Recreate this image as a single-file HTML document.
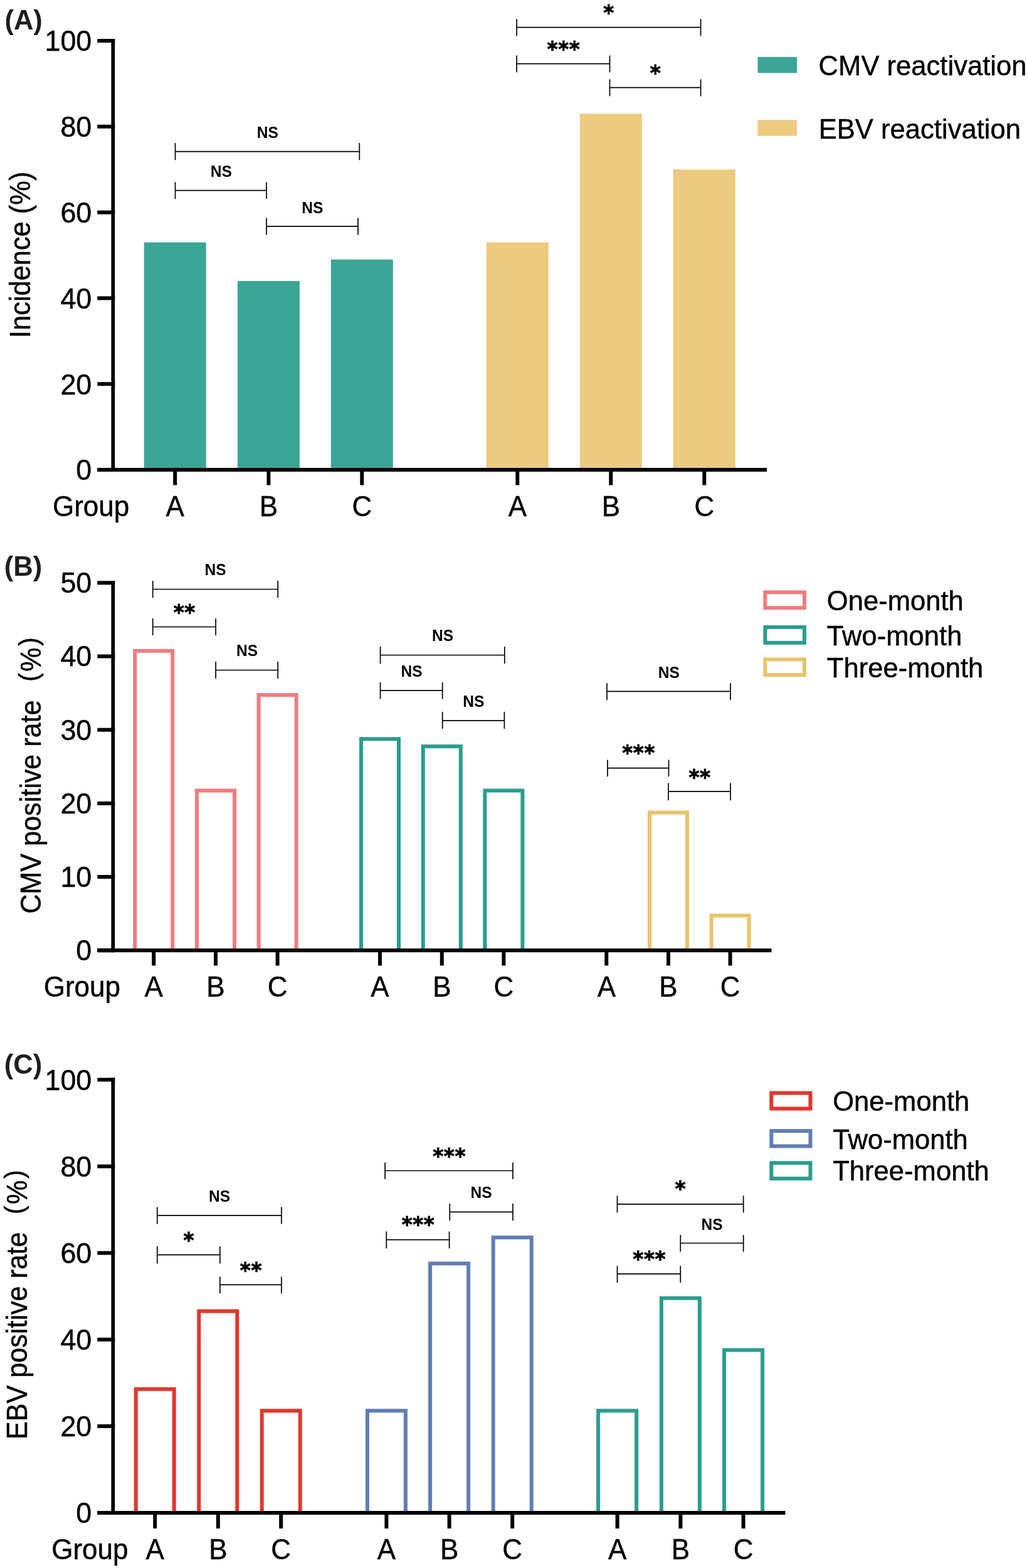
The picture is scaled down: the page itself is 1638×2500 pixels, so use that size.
<!DOCTYPE html>
<html><head><meta charset="utf-8"><title>Figure</title><style>html,body{margin:0;padding:0;background:#fff;overflow:hidden;width:1638px;height:2500px;}svg{display:block;}</style></head><body>
<svg width="1638" height="2500" viewBox="0 0 1638 2500" font-family='"Liberation Sans", Arial, sans-serif'>
<rect width="1638" height="2500" fill="#fff"/>
<rect x="229.7" y="386.48" width="99" height="359.72" fill="#3ba597"/>
<rect x="378.9" y="448.04" width="99" height="298.16" fill="#3ba597"/>
<rect x="527.8" y="413.84" width="99" height="332.36" fill="#3ba597"/>
<rect x="775.8" y="386.48" width="99" height="359.72" fill="#ecca7e"/>
<rect x="924.8" y="181.28" width="99" height="564.92" fill="#ecca7e"/>
<rect x="1073.8" y="270.2" width="99" height="476" fill="#ecca7e"/>
<rect x="177.4" y="62" width="5.8" height="690" fill="#000"/>
<rect x="155.3" y="62" width="27.9" height="6" fill="#000"/>
<text transform="translate(146.2,81.4) scale(1,1.04)" font-size="44.8" text-anchor="end" stroke="#000" stroke-width="0.45" fill="#000">100</text>
<rect x="155.3" y="198.8" width="27.9" height="6" fill="#000"/>
<text transform="translate(146.2,218.2) scale(1,1.04)" font-size="44.8" text-anchor="end" stroke="#000" stroke-width="0.45" fill="#000">80</text>
<rect x="155.3" y="335.6" width="27.9" height="6" fill="#000"/>
<text transform="translate(146.2,355) scale(1,1.04)" font-size="44.8" text-anchor="end" stroke="#000" stroke-width="0.45" fill="#000">60</text>
<rect x="155.3" y="472.4" width="27.9" height="6" fill="#000"/>
<text transform="translate(146.2,491.8) scale(1,1.04)" font-size="44.8" text-anchor="end" stroke="#000" stroke-width="0.45" fill="#000">40</text>
<rect x="155.3" y="609.2" width="27.9" height="6" fill="#000"/>
<text transform="translate(146.2,628.6) scale(1,1.04)" font-size="44.8" text-anchor="end" stroke="#000" stroke-width="0.45" fill="#000">20</text>
<rect x="155.3" y="746" width="27.9" height="6" fill="#000"/>
<text transform="translate(146.2,765.4) scale(1,1.04)" font-size="44.8" text-anchor="end" stroke="#000" stroke-width="0.45" fill="#000">0</text>
<rect x="155.3" y="746" width="1067.8" height="6" fill="#000"/>
<rect x="276.2" y="749" width="6" height="24.5" fill="#000"/>
<text transform="translate(279.2,823.2) scale(1,1.035)" font-size="44" text-anchor="middle" stroke="#000" stroke-width="0.45" fill="#000">A</text>
<rect x="425.4" y="749" width="6" height="24.5" fill="#000"/>
<text transform="translate(428.4,823.2) scale(1,1.035)" font-size="44" text-anchor="middle" stroke="#000" stroke-width="0.45" fill="#000">B</text>
<rect x="574.3" y="749" width="6" height="24.5" fill="#000"/>
<text transform="translate(577.3,823.2) scale(1,1.035)" font-size="44" text-anchor="middle" stroke="#000" stroke-width="0.45" fill="#000">C</text>
<rect x="822.3" y="749" width="6" height="24.5" fill="#000"/>
<text transform="translate(825.3,823.2) scale(1,1.035)" font-size="44" text-anchor="middle" stroke="#000" stroke-width="0.45" fill="#000">A</text>
<rect x="971.3" y="749" width="6" height="24.5" fill="#000"/>
<text transform="translate(974.3,823.2) scale(1,1.035)" font-size="44" text-anchor="middle" stroke="#000" stroke-width="0.45" fill="#000">B</text>
<rect x="1120.3" y="749" width="6" height="24.5" fill="#000"/>
<text transform="translate(1123.3,823.2) scale(1,1.035)" font-size="44" text-anchor="middle" stroke="#000" stroke-width="0.45" fill="#000">C</text>
<text transform="translate(83.99,823.2) scale(1,1.035)" font-size="44" text-anchor="start" stroke="#000" stroke-width="0.45" fill="#000">Group</text>
<path d="M279.5,228.7V254.4M573.3,228.7V254.4M279.5,241.6H573.3" fill="none" stroke="#000" stroke-width="1.7" stroke-linecap="round"/>
<text transform="translate(426.85,220.05) scale(1,1.035)" font-size="24.6" text-anchor="middle" font-weight="bold" fill="#000">NS</text>
<path d="M279.5,290.8V316.5M425,290.8V316.5M279.5,303.7H425" fill="none" stroke="#000" stroke-width="1.7" stroke-linecap="round"/>
<text transform="translate(352.7,282.35) scale(1,1.035)" font-size="24.6" text-anchor="middle" font-weight="bold" fill="#000">NS</text>
<path d="M425,348V373.7M571,348V373.7M425,360.9H571" fill="none" stroke="#000" stroke-width="1.7" stroke-linecap="round"/>
<text transform="translate(498.25,339.55) scale(1,1.035)" font-size="24.6" text-anchor="middle" font-weight="bold" fill="#000">NS</text>
<path d="M824.1,31V56.4M1117.6,31V56.4M824.1,43.7H1117.6" fill="none" stroke="#000" stroke-width="1.7" stroke-linecap="round"/>
<text transform="translate(970.95,31.69) scale(1,1.04)" font-size="32.5" text-anchor="middle" font-weight="bold" font-family="'DejaVu Sans', sans-serif" fill="#000" stroke="#000" stroke-width="0.8" stroke-linejoin="miter" letter-spacing="0.6">*</text>
<path d="M824.1,89.2V114.6M972.5,89.2V114.6M824.1,101.6H972.5" fill="none" stroke="#000" stroke-width="1.7" stroke-linecap="round"/>
<text transform="translate(899,89.89) scale(1,1.04)" font-size="32.5" text-anchor="middle" font-weight="bold" font-family="'DejaVu Sans', sans-serif" fill="#000" stroke="#000" stroke-width="0.8" stroke-linejoin="miter" letter-spacing="0.6">***</text>
<path d="M972.5,127V152.7M1117.6,127V152.7M972.5,139.7H1117.6" fill="none" stroke="#000" stroke-width="1.7" stroke-linecap="round"/>
<text transform="translate(1045.65,127.69) scale(1,1.04)" font-size="32.5" text-anchor="middle" font-weight="bold" font-family="'DejaVu Sans', sans-serif" fill="#000" stroke="#000" stroke-width="0.8" stroke-linejoin="miter" letter-spacing="0.6">*</text>
<rect x="1208.5" y="90.8" width="62.6" height="25.6" fill="#3ba597"/>
<rect x="1208.5" y="191.3" width="62.6" height="25.3" fill="#ecca7e"/>
<text transform="translate(1305.59,120.2) scale(1,1.035)" font-size="43.6" text-anchor="start" stroke="#000" stroke-width="0.45" fill="#000">CMV reactivation</text>
<text transform="translate(1305.72,220.7) scale(1,1.035)" font-size="43.6" text-anchor="start" stroke="#000" stroke-width="0.45" fill="#000">EBV reactivation</text>
<text transform="translate(7.43,47.1) scale(1,1.035)" font-size="43.5" text-anchor="start" font-weight="bold" fill="#1e1e1e">(A)</text>
<text transform="translate(47.9,406.3) rotate(-90) scale(1,1.05)" font-size="43.4" text-anchor="middle" fill="#000" stroke="#000" stroke-width="0.45">Incidence (%)</text>
<path d="M215.2,1513.25V1037.73H275.2V1513.25" fill="none" stroke="#f07c7f" stroke-width="6" stroke-linejoin="miter"/>
<path d="M314,1513.25V1260.41H374V1513.25" fill="none" stroke="#f07c7f" stroke-width="6" stroke-linejoin="miter"/>
<path d="M412.6,1513.25V1108.05H472.6V1513.25" fill="none" stroke="#f07c7f" stroke-width="6" stroke-linejoin="miter"/>
<path d="M576,1513.25V1178.37H636V1513.25" fill="none" stroke="#2a9d8f" stroke-width="6" stroke-linejoin="miter"/>
<path d="M674.8,1513.25V1190.09H734.8V1513.25" fill="none" stroke="#2a9d8f" stroke-width="6" stroke-linejoin="miter"/>
<path d="M773.4,1513.25V1260.41H833.4V1513.25" fill="none" stroke="#2a9d8f" stroke-width="6" stroke-linejoin="miter"/>
<path d="M1036,1513.25V1295.57H1096V1513.25" fill="none" stroke="#e8c46a" stroke-width="6" stroke-linejoin="miter"/>
<path d="M1134.6,1513.25V1459.65H1194.6V1513.25" fill="none" stroke="#e8c46a" stroke-width="6" stroke-linejoin="miter"/>
<rect x="177.4" y="926.4" width="5.8" height="591.85" fill="#000"/>
<rect x="155.3" y="926.25" width="27.9" height="6" fill="#000"/>
<text transform="translate(146.2,945.25) scale(1,1.04)" font-size="44.8" text-anchor="end" stroke="#000" stroke-width="0.45" fill="#000">50</text>
<rect x="155.3" y="1043.45" width="27.9" height="6" fill="#000"/>
<text transform="translate(146.2,1062.45) scale(1,1.04)" font-size="44.8" text-anchor="end" stroke="#000" stroke-width="0.45" fill="#000">40</text>
<rect x="155.3" y="1160.65" width="27.9" height="6" fill="#000"/>
<text transform="translate(146.2,1179.65) scale(1,1.04)" font-size="44.8" text-anchor="end" stroke="#000" stroke-width="0.45" fill="#000">30</text>
<rect x="155.3" y="1277.85" width="27.9" height="6" fill="#000"/>
<text transform="translate(146.2,1296.85) scale(1,1.04)" font-size="44.8" text-anchor="end" stroke="#000" stroke-width="0.45" fill="#000">20</text>
<rect x="155.3" y="1395.05" width="27.9" height="6" fill="#000"/>
<text transform="translate(146.2,1414.05) scale(1,1.04)" font-size="44.8" text-anchor="end" stroke="#000" stroke-width="0.45" fill="#000">10</text>
<rect x="155.3" y="1512.25" width="27.9" height="6" fill="#000"/>
<text transform="translate(146.2,1531.25) scale(1,1.04)" font-size="44.8" text-anchor="end" stroke="#000" stroke-width="0.45" fill="#000">0</text>
<rect x="155.3" y="1512.25" width="1075.2" height="6" fill="#000"/>
<rect x="242.2" y="1515.25" width="6" height="24.25" fill="#000"/>
<text transform="translate(245.2,1589) scale(1,1.035)" font-size="44" text-anchor="middle" stroke="#000" stroke-width="0.45" fill="#000">A</text>
<rect x="341" y="1515.25" width="6" height="24.25" fill="#000"/>
<text transform="translate(344,1589) scale(1,1.035)" font-size="44" text-anchor="middle" stroke="#000" stroke-width="0.45" fill="#000">B</text>
<rect x="439.6" y="1515.25" width="6" height="24.25" fill="#000"/>
<text transform="translate(442.6,1589) scale(1,1.035)" font-size="44" text-anchor="middle" stroke="#000" stroke-width="0.45" fill="#000">C</text>
<rect x="603" y="1515.25" width="6" height="24.25" fill="#000"/>
<text transform="translate(606,1589) scale(1,1.035)" font-size="44" text-anchor="middle" stroke="#000" stroke-width="0.45" fill="#000">A</text>
<rect x="701.8" y="1515.25" width="6" height="24.25" fill="#000"/>
<text transform="translate(704.8,1589) scale(1,1.035)" font-size="44" text-anchor="middle" stroke="#000" stroke-width="0.45" fill="#000">B</text>
<rect x="800.4" y="1515.25" width="6" height="24.25" fill="#000"/>
<text transform="translate(803.4,1589) scale(1,1.035)" font-size="44" text-anchor="middle" stroke="#000" stroke-width="0.45" fill="#000">C</text>
<rect x="964.3" y="1515.25" width="6" height="24.25" fill="#000"/>
<text transform="translate(967.3,1589) scale(1,1.035)" font-size="44" text-anchor="middle" stroke="#000" stroke-width="0.45" fill="#000">A</text>
<rect x="1063" y="1515.25" width="6" height="24.25" fill="#000"/>
<text transform="translate(1066,1589) scale(1,1.035)" font-size="44" text-anchor="middle" stroke="#000" stroke-width="0.45" fill="#000">B</text>
<rect x="1161.6" y="1515.25" width="6" height="24.25" fill="#000"/>
<text transform="translate(1164.6,1589) scale(1,1.035)" font-size="44" text-anchor="middle" stroke="#000" stroke-width="0.45" fill="#000">C</text>
<text transform="translate(69.69,1589) scale(1,1.035)" font-size="44" text-anchor="start" stroke="#000" stroke-width="0.45" fill="#000">Group</text>
<path d="M243.7,926.7V952.4M443.2,926.7V952.4M243.7,939.5H443.2" fill="none" stroke="#000" stroke-width="1.7" stroke-linecap="round"/>
<text transform="translate(343.5,917.45) scale(1,1.035)" font-size="24.6" text-anchor="middle" font-weight="bold" fill="#000">NS</text>
<path d="M243.7,986.7V1012.3M344.1,986.7V1012.3M243.7,999.5H344.1" fill="none" stroke="#000" stroke-width="1.7" stroke-linecap="round"/>
<text transform="translate(294.25,988.09) scale(1,1.04)" font-size="32.5" text-anchor="middle" font-weight="bold" font-family="'DejaVu Sans', sans-serif" fill="#000" stroke="#000" stroke-width="0.8" stroke-linejoin="miter" letter-spacing="0.6">**</text>
<path d="M344.1,1055.6V1081.3M443.2,1055.6V1081.3M344.1,1068.5H443.2" fill="none" stroke="#000" stroke-width="1.7" stroke-linecap="round"/>
<text transform="translate(394,1046.45) scale(1,1.035)" font-size="24.6" text-anchor="middle" font-weight="bold" fill="#000">NS</text>
<path d="M606.6,1031.6V1057.5M804.8,1031.6V1057.5M606.6,1044.5H804.8" fill="none" stroke="#000" stroke-width="1.7" stroke-linecap="round"/>
<text transform="translate(706,1022.45) scale(1,1.035)" font-size="24.6" text-anchor="middle" font-weight="bold" fill="#000">NS</text>
<path d="M606.6,1088.3V1113.7M705.7,1088.3V1113.7M606.6,1100.8H705.7" fill="none" stroke="#000" stroke-width="1.7" stroke-linecap="round"/>
<text transform="translate(656.6,1079.25) scale(1,1.035)" font-size="24.6" text-anchor="middle" font-weight="bold" fill="#000">NS</text>
<path d="M705.7,1135.5V1161.3M804.4,1135.5V1161.3M705.7,1148.8H804.4" fill="none" stroke="#000" stroke-width="1.7" stroke-linecap="round"/>
<text transform="translate(755.3,1126.95) scale(1,1.035)" font-size="24.6" text-anchor="middle" font-weight="bold" fill="#000">NS</text>
<path d="M968,1089.9V1115.5M1165.1,1089.9V1115.5M968,1102.3H1165.1" fill="none" stroke="#000" stroke-width="1.7" stroke-linecap="round"/>
<text transform="translate(1066.7,1080.55) scale(1,1.035)" font-size="24.6" text-anchor="middle" font-weight="bold" fill="#000">NS</text>
<path d="M969,1212V1237.4M1066.5,1212V1237.4M969,1224.7H1066.5" fill="none" stroke="#000" stroke-width="1.7" stroke-linecap="round"/>
<text transform="translate(1018.6,1212.39) scale(1,1.04)" font-size="32.5" text-anchor="middle" font-weight="bold" font-family="'DejaVu Sans', sans-serif" fill="#000" stroke="#000" stroke-width="0.8" stroke-linejoin="miter" letter-spacing="0.6">***</text>
<path d="M1066,1249.2V1275.5M1165.1,1249.2V1275.5M1066,1261.9H1165.1" fill="none" stroke="#000" stroke-width="1.7" stroke-linecap="round"/>
<text transform="translate(1116.1,1250.69) scale(1,1.04)" font-size="32.5" text-anchor="middle" font-weight="bold" font-family="'DejaVu Sans', sans-serif" fill="#000" stroke="#000" stroke-width="0.8" stroke-linejoin="miter" letter-spacing="0.6">**</text>
<rect x="1220.4" y="944.3" width="62.6" height="24.8" fill="none" stroke="#f07c7f" stroke-width="6"/>
<text transform="translate(1318.8,973.4) scale(1,1.035)" font-size="43.6" text-anchor="start" stroke="#000" stroke-width="0.45" fill="#000">One-month</text>
<rect x="1220.4" y="1000" width="62.6" height="24.8" fill="none" stroke="#2a9d8f" stroke-width="6"/>
<text transform="translate(1318.8,1029) scale(1,1.035)" font-size="43.6" text-anchor="start" stroke="#000" stroke-width="0.45" fill="#000">Two-month</text>
<rect x="1220.4" y="1051.3" width="62.6" height="24.8" fill="none" stroke="#e8c46a" stroke-width="6"/>
<text transform="translate(1318.8,1080.4) scale(1,1.035)" font-size="43.6" text-anchor="start" stroke="#000" stroke-width="0.45" fill="#000">Three-month</text>
<text transform="translate(6.83,917.7) scale(1,1.035)" font-size="43.5" text-anchor="start" font-weight="bold" fill="#1e1e1e">(B)</text>
<text transform="translate(65.3,1456.79) rotate(-90) scale(1,1.065)" font-size="43.15" fill="#000" stroke="#000" stroke-width="0.45">CMV positive rate<tspan dx="29.7" dy="-5.2" font-size="40.56">(</tspan><tspan dx="2.5" dy="5.2">%</tspan><tspan dx="2.5" dy="-5.2" font-size="40.56">)</tspan></text>
<path d="M216.7,2410V2214.76H277.7V2410" fill="none" stroke="#e3362b" stroke-width="6" stroke-linejoin="miter"/>
<path d="M317.3,2410V2090.47H378.3V2410" fill="none" stroke="#e3362b" stroke-width="6" stroke-linejoin="miter"/>
<path d="M417.7,2410V2249.28H478.7V2410" fill="none" stroke="#e3362b" stroke-width="6" stroke-linejoin="miter"/>
<path d="M585.9,2410V2249.28H646.9V2410" fill="none" stroke="#607db6" stroke-width="6" stroke-linejoin="miter"/>
<path d="M686.1,2410V2014.51H747.1V2410" fill="none" stroke="#607db6" stroke-width="6" stroke-linejoin="miter"/>
<path d="M786.7,2410V1973.08H847.7V2410" fill="none" stroke="#607db6" stroke-width="6" stroke-linejoin="miter"/>
<path d="M954.1,2410V2249.28H1015.1V2410" fill="none" stroke="#2a9d8f" stroke-width="6" stroke-linejoin="miter"/>
<path d="M1054.9,2410V2069.75H1115.9V2410" fill="none" stroke="#2a9d8f" stroke-width="6" stroke-linejoin="miter"/>
<path d="M1155.1,2410V2152.61H1216.1V2410" fill="none" stroke="#2a9d8f" stroke-width="6" stroke-linejoin="miter"/>
<rect x="177.4" y="1718.3" width="5.8" height="696.7" fill="#000"/>
<rect x="155.3" y="1718.5" width="27.9" height="6" fill="#000"/>
<text transform="translate(146.2,1737.9) scale(1,1.04)" font-size="44.8" text-anchor="end" stroke="#000" stroke-width="0.45" fill="#000">100</text>
<rect x="155.3" y="1856.6" width="27.9" height="6" fill="#000"/>
<text transform="translate(146.2,1876) scale(1,1.04)" font-size="44.8" text-anchor="end" stroke="#000" stroke-width="0.45" fill="#000">80</text>
<rect x="155.3" y="1994.7" width="27.9" height="6" fill="#000"/>
<text transform="translate(146.2,2014.1) scale(1,1.04)" font-size="44.8" text-anchor="end" stroke="#000" stroke-width="0.45" fill="#000">60</text>
<rect x="155.3" y="2132.8" width="27.9" height="6" fill="#000"/>
<text transform="translate(146.2,2152.2) scale(1,1.04)" font-size="44.8" text-anchor="end" stroke="#000" stroke-width="0.45" fill="#000">40</text>
<rect x="155.3" y="2270.9" width="27.9" height="6" fill="#000"/>
<text transform="translate(146.2,2290.3) scale(1,1.04)" font-size="44.8" text-anchor="end" stroke="#000" stroke-width="0.45" fill="#000">20</text>
<rect x="155.3" y="2409" width="27.9" height="6" fill="#000"/>
<text transform="translate(146.2,2428.4) scale(1,1.04)" font-size="44.8" text-anchor="end" stroke="#000" stroke-width="0.45" fill="#000">0</text>
<rect x="155.3" y="2409" width="1097.2" height="6" fill="#000"/>
<rect x="244.2" y="2412" width="6" height="25" fill="#000"/>
<text transform="translate(247.2,2486) scale(1,1.035)" font-size="44" text-anchor="middle" stroke="#000" stroke-width="0.45" fill="#000">A</text>
<rect x="344.8" y="2412" width="6" height="25" fill="#000"/>
<text transform="translate(347.8,2486) scale(1,1.035)" font-size="44" text-anchor="middle" stroke="#000" stroke-width="0.45" fill="#000">B</text>
<rect x="445.2" y="2412" width="6" height="25" fill="#000"/>
<text transform="translate(448.2,2486) scale(1,1.035)" font-size="44" text-anchor="middle" stroke="#000" stroke-width="0.45" fill="#000">C</text>
<rect x="613.4" y="2412" width="6" height="25" fill="#000"/>
<text transform="translate(616.4,2486) scale(1,1.035)" font-size="44" text-anchor="middle" stroke="#000" stroke-width="0.45" fill="#000">A</text>
<rect x="713.6" y="2412" width="6" height="25" fill="#000"/>
<text transform="translate(716.6,2486) scale(1,1.035)" font-size="44" text-anchor="middle" stroke="#000" stroke-width="0.45" fill="#000">B</text>
<rect x="814.2" y="2412" width="6" height="25" fill="#000"/>
<text transform="translate(817.2,2486) scale(1,1.035)" font-size="44" text-anchor="middle" stroke="#000" stroke-width="0.45" fill="#000">C</text>
<rect x="981.6" y="2412" width="6" height="25" fill="#000"/>
<text transform="translate(984.6,2486) scale(1,1.035)" font-size="44" text-anchor="middle" stroke="#000" stroke-width="0.45" fill="#000">A</text>
<rect x="1082.4" y="2412" width="6" height="25" fill="#000"/>
<text transform="translate(1085.4,2486) scale(1,1.035)" font-size="44" text-anchor="middle" stroke="#000" stroke-width="0.45" fill="#000">B</text>
<rect x="1182.6" y="2412" width="6" height="25" fill="#000"/>
<text transform="translate(1185.6,2486) scale(1,1.035)" font-size="44" text-anchor="middle" stroke="#000" stroke-width="0.45" fill="#000">C</text>
<text transform="translate(82.19,2486) scale(1,1.035)" font-size="44" text-anchor="start" stroke="#000" stroke-width="0.45" fill="#000">Group</text>
<path d="M250.8,1925.2V1950.8M448.9,1925.2V1950.8M250.8,1937.9H448.9" fill="none" stroke="#000" stroke-width="1.7" stroke-linecap="round"/>
<text transform="translate(350.1,1916.25) scale(1,1.035)" font-size="24.6" text-anchor="middle" font-weight="bold" fill="#000">NS</text>
<path d="M250.8,1987.8V2013.8M350.8,1987.8V2013.8M250.8,2000.7H350.8" fill="none" stroke="#000" stroke-width="1.7" stroke-linecap="round"/>
<text transform="translate(301.2,1988.59) scale(1,1.04)" font-size="32.5" text-anchor="middle" font-weight="bold" font-family="'DejaVu Sans', sans-serif" fill="#000" stroke="#000" stroke-width="0.8" stroke-linejoin="miter" letter-spacing="0.6">*</text>
<path d="M350.8,2036V2061.6M448.9,2036V2061.6M350.8,2048.3H448.9" fill="none" stroke="#000" stroke-width="1.7" stroke-linecap="round"/>
<text transform="translate(400.45,2036.89) scale(1,1.04)" font-size="32.5" text-anchor="middle" font-weight="bold" font-family="'DejaVu Sans', sans-serif" fill="#000" stroke="#000" stroke-width="0.8" stroke-linejoin="miter" letter-spacing="0.6">**</text>
<path d="M614.1,1854.2V1879.3M818,1854.2V1879.3M614.1,1866.5H818" fill="none" stroke="#000" stroke-width="1.7" stroke-linecap="round"/>
<text transform="translate(716.6,1854.69) scale(1,1.04)" font-size="32.5" text-anchor="middle" font-weight="bold" font-family="'DejaVu Sans', sans-serif" fill="#000" stroke="#000" stroke-width="0.8" stroke-linejoin="miter" letter-spacing="0.6">***</text>
<path d="M717.3,1919.7V1945.4M818,1919.7V1945.4M717.3,1932.3H818" fill="none" stroke="#000" stroke-width="1.7" stroke-linecap="round"/>
<text transform="translate(767.5,1909.65) scale(1,1.035)" font-size="24.6" text-anchor="middle" font-weight="bold" fill="#000">NS</text>
<path d="M616.3,1964V1989.7M716.6,1964V1989.7M616.3,1976.6H716.6" fill="none" stroke="#000" stroke-width="1.7" stroke-linecap="round"/>
<text transform="translate(667.05,1964.39) scale(1,1.04)" font-size="32.5" text-anchor="middle" font-weight="bold" font-family="'DejaVu Sans', sans-serif" fill="#000" stroke="#000" stroke-width="0.8" stroke-linejoin="miter" letter-spacing="0.6">***</text>
<path d="M984.5,1907.1V1932.7M1185.7,1907.1V1932.7M984.5,1919.8H1185.7" fill="none" stroke="#000" stroke-width="1.7" stroke-linecap="round"/>
<text transform="translate(1085.3,1907.29) scale(1,1.04)" font-size="32.5" text-anchor="middle" font-weight="bold" font-family="'DejaVu Sans', sans-serif" fill="#000" stroke="#000" stroke-width="0.8" stroke-linejoin="miter" letter-spacing="0.6">*</text>
<path d="M1085.3,1969.5V1995.1M1185.7,1969.5V1995.1M1085.3,1982H1185.7" fill="none" stroke="#000" stroke-width="1.7" stroke-linecap="round"/>
<text transform="translate(1135.6,1960.55) scale(1,1.035)" font-size="24.6" text-anchor="middle" font-weight="bold" fill="#000">NS</text>
<path d="M984.5,2018.9V2044.6M1085.3,2018.9V2044.6M984.5,2031.2H1085.3" fill="none" stroke="#000" stroke-width="1.7" stroke-linecap="round"/>
<text transform="translate(1035.75,2019.19) scale(1,1.04)" font-size="32.5" text-anchor="middle" font-weight="bold" font-family="'DejaVu Sans', sans-serif" fill="#000" stroke="#000" stroke-width="0.8" stroke-linejoin="miter" letter-spacing="0.6">***</text>
<rect x="1230.3" y="1742.7" width="62.2" height="24.9" fill="none" stroke="#e3362b" stroke-width="6"/>
<text transform="translate(1328.2,1771.4) scale(1,1.035)" font-size="43.6" text-anchor="start" stroke="#000" stroke-width="0.45" fill="#000">One-month</text>
<rect x="1230.3" y="1803.1" width="62.2" height="24.3" fill="none" stroke="#607db6" stroke-width="6"/>
<text transform="translate(1328.2,1831.5) scale(1,1.035)" font-size="43.6" text-anchor="start" stroke="#000" stroke-width="0.45" fill="#000">Two-month</text>
<rect x="1230.3" y="1854.2" width="62.2" height="24.9" fill="none" stroke="#2a9d8f" stroke-width="6"/>
<text transform="translate(1328.2,1882.4) scale(1,1.035)" font-size="43.6" text-anchor="start" stroke="#000" stroke-width="0.45" fill="#000">Three-month</text>
<text transform="translate(6.83,1712) scale(1,1.035)" font-size="43.5" text-anchor="start" font-weight="bold" fill="#1e1e1e">(C)</text>
<text transform="translate(42.7,2295.04) rotate(-90) scale(1,1.065)" font-size="43.15" fill="#000" stroke="#000" stroke-width="0.45">EBV positive rate<tspan dx="28.2" dy="-5.2" font-size="40.56">(</tspan><tspan dx="2.5" dy="5.2">%</tspan><tspan dx="2.5" dy="-5.2" font-size="40.56">)</tspan></text>
</svg>
</body></html>
